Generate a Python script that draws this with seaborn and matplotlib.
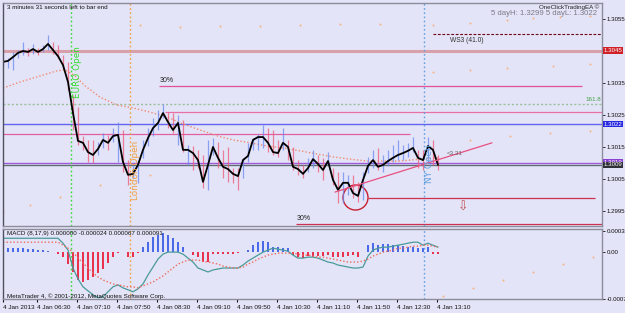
"""
MetaTrader-style EURUSD M5 chart with MACD sub-window, 4 Jan 2013.
"""
import matplotlib
matplotlib.use("Agg")
import matplotlib.pyplot as plt
import matplotlib.transforms as mtransforms
from matplotlib.patches import Ellipse
import seaborn as sns

# ---- data -------------------------------------------------------------------
# bar open times, minutes after 06:00 (5-minute bars)
bar_minutes = list(range(-4, 436, 5))

closes = [
    1.30415, 1.30418, 1.30430, 1.30443, 1.30449, 1.30446, 1.30455, 1.30446, 1.30455, 1.30471,
    1.30452, 1.30433, 1.30405, 1.30352, 1.30255, 1.30168, 1.30162, 1.30133, 1.30124, 1.30143,
    1.30171, 1.30162, 1.30183, 1.30187, 1.30102, 1.30062, 1.30065, 1.30093, 1.30140, 1.30177,
    1.30208, 1.30224, 1.30255, 1.30227, 1.30202, 1.30224, 1.30140, 1.30140, 1.30130, 1.30108,
    1.30040, 1.30093, 1.30149, 1.30115, 1.30087, 1.30080, 1.30065, 1.30058, 1.30108, 1.30121,
    1.30171, 1.30180, 1.30180, 1.30162, 1.30133, 1.30130, 1.30162, 1.30149, 1.30087, 1.30080,
    1.30065, 1.30083, 1.30111, 1.30096, 1.30077, 1.30105, 1.30046, 1.30015, 1.30037, 1.30037,
    1.30005, 1.29996, 1.30046, 1.30090, 1.30108, 1.30087, 1.30093, 1.30105, 1.30115, 1.30124,
    1.30130, 1.30137, 1.30146, 1.30115, 1.30108, 1.30152, 1.30140, 1.30093,
]
highs = [
    1.30427, 1.30427, 1.30446, 1.30452, 1.30477, 1.30458, 1.30471, 1.30458, 1.30468, 1.30499,
    1.30477, 1.30468, 1.30437, 1.30415, 1.30312, 1.30274, 1.30184, 1.30171, 1.30171, 1.30165,
    1.30193, 1.30187, 1.30208, 1.30227, 1.30202, 1.30108, 1.30093, 1.30108, 1.30171, 1.30208,
    1.30240, 1.30265, 1.30283, 1.30258, 1.30255, 1.30249, 1.30233, 1.30155, 1.30152, 1.30140,
    1.30124, 1.30171, 1.30177, 1.30165, 1.30140, 1.30149, 1.30083, 1.30083, 1.30115, 1.30162,
    1.30177, 1.30190, 1.30218, 1.30208, 1.30202, 1.30171, 1.30208, 1.30171, 1.30149, 1.30108,
    1.30093, 1.30115, 1.30140, 1.30124, 1.30115, 1.30133, 1.30083, 1.30071, 1.30071, 1.30062,
    1.30062, 1.30040, 1.30071, 1.30118, 1.30140, 1.30146, 1.30124, 1.30140, 1.30155, 1.30171,
    1.30155, 1.30162, 1.30180, 1.30140, 1.30140, 1.30180, 1.30171, 1.30124,
]
lows = [
    1.30402, 1.30396, 1.30390, 1.30427, 1.30437, 1.30434, 1.30440, 1.30437, 1.30446, 1.30452,
    1.30440, 1.30427, 1.30396, 1.30327, 1.30202, 1.30155, 1.30140, 1.30102, 1.30099, 1.30124,
    1.30146, 1.30140, 1.30165, 1.30102, 1.30071, 1.30030, 1.30052, 1.30037, 1.30115, 1.30152,
    1.30184, 1.30202, 1.30240, 1.30208, 1.30193, 1.30155, 1.30133, 1.30093, 1.30077, 1.30083,
    1.30021, 1.30015, 1.30124, 1.30083, 1.30052, 1.30040, 1.30037, 1.30015, 1.30052, 1.30102,
    1.30140, 1.30140, 1.30146, 1.30133, 1.30124, 1.30118, 1.30140, 1.30108, 1.30077, 1.30062,
    1.30052, 1.30071, 1.30083, 1.30071, 1.30046, 1.30093, 1.30030, 1.29974, 1.29974, 1.29999,
    1.29990, 1.29977, 1.29983, 1.30068, 1.30083, 1.30077, 1.30071, 1.30090, 1.30102, 1.30108,
    1.30108, 1.30118, 1.30133, 1.30083, 1.30077, 1.30099, 1.30093, 1.30077,
]

# slow moving average (dotted salmon)
ma_minutes = [-4, 13, 33, 50, 58, 68, 78, 93, 110, 126, 143, 160, 176, 193,
              210, 226, 243, 260, 276, 293, 310, 326, 343, 360, 376, 393, 413, 433]
ma_values = [1.30333, 1.30352, 1.30371, 1.30387, 1.30390, 1.30371, 1.30340, 1.30305,
             1.30280, 1.30271, 1.30258, 1.30243, 1.30221, 1.30202, 1.30184, 1.30171,
             1.30162, 1.30152, 1.30146, 1.30137, 1.30127, 1.30118, 1.30111, 1.30105,
             1.30105, 1.30105, 1.30111, 1.30115]

# faint envelope dots
env_up_minutes = [133, 173, 213, 253, 293, 333, 373, 426, 463, 500, 526, 553, 583]
env_up_values = [1.30530, 1.30524, 1.30527, 1.30527, 1.30530, 1.30533, 1.30533,
                 1.30530, 1.30537, 1.30546, 1.30552, 1.30555, 1.30558]
env_mid_minutes = [426, 463, 500, 546, 583]
env_mid_values = [1.30383, 1.30390, 1.30396, 1.30402, 1.30408]
env_low_minutes = [-4, 23, 53, 93, 143, 463, 503, 543, 583]
env_low_values = [1.29946, 1.29968, 1.29993, 1.30030, 1.30062, 1.30171, 1.30183, 1.30193, 1.30199]

# MACD (8,17,9)
macd_hist = [
    0.000065, 0.000065, 0.000065, 0.000065, 0.000065, 0.000049, 0.000049, 0.000033, 0.000033, 0.000016,
    0.000005, -0.000033, -0.000082, -0.000196, -0.000327, -0.000457, -0.00049, -0.000457, -0.000408, -0.000343,
    -0.000278, -0.00018, -0.000082, -0.000016, 0.000005, -0.000082, -0.000082, -0.000016, 0.000082, 0.000163,
    0.000245, 0.000278, 0.00031, 0.000278, 0.000229, 0.000163, 0.000082, 0.000008, -0.000049, -0.000082,
    -0.000163, -0.000163, -0.000033, -0.000033, -0.000033, -0.000033, -0.000033, -0.000016, 0.000005, 0.000033,
    0.000114, 0.000163, 0.00018, 0.000163, 0.000082, 0.000082, 0.000065, 0.000065, -0.000049, -0.000082,
    -0.000098, -0.000065, -0.000082, -0.000065, -0.000065, -0.000049, -0.000082, -0.000082, -0.000082, -0.000065,
    -0.000049, -0.000082, 0.000005, 0.000114, 0.000147, 0.000114, 0.000131, 0.000131, 0.000114, 0.000114,
    0.000098, 0.000082, 0.000082, 0.000065, 0.000065, 0.000082, -0.000033, -0.000033,
]
macd_main = [
    0.000228, 0.000228, 0.000228, 0.000228, 0.000228, 0.000228, 0.000228, 0.000228, 0.000228, 0.000228,
    0.000228, 0.000228, 0.000147, 0.000033, -0.000261, -0.00044, -0.00057, -0.000636, -0.0007, -0.00075,
    -0.000733, -0.000652, -0.00057, -0.000538, -0.000587, -0.000619, -0.000652, -0.000603, -0.000522, -0.000375,
    -0.000245, -0.000114, -0.000033, 0.0, 0.0, 0.0, -0.000033, -0.000098, -0.000163, -0.000261,
    -0.000293, -0.000326, -0.000293, -0.000277, -0.000261, -0.000261, -0.000261, -0.000261, -0.000212, -0.000147,
    -0.000098, -0.000049, 0.0, 0.000033, 0.000065, 0.000049, 0.000033, 0.000016, -0.000049, -0.000098,
    -0.000098, -0.000082, -0.000082, -0.000098, -0.00013, -0.000163, -0.000179, -0.000212, -0.000228, -0.000245,
    -0.000261, -0.000261, -0.000245, -0.000065, 0.000033, 0.000065, 0.000082, 0.000082, 0.000098, 0.000114,
    0.00013, 0.000147, 0.000163, 0.000163, 0.000114, 0.000147, 0.000114, 0.000082,
]
macd_signal = [
    0.000163, 0.000163, 0.000163, 0.000163, 0.000163, 0.000163, 0.000163, 0.000163, 0.000163, 0.000163,
    0.000163, 0.000163, 0.000114, 0.000065, 0.0, -0.000098, -0.000179, -0.000261, -0.000343, -0.000408,
    -0.000457, -0.00049, -0.000522, -0.000538, -0.000554, -0.00057, -0.00057, -0.000587, -0.000554, -0.000522,
    -0.00049, -0.00044, -0.000391, -0.000326, -0.000261, -0.000196, -0.000163, -0.00013, -0.00013, -0.00013,
    -0.000147, -0.000163, -0.000179, -0.000196, -0.000228, -0.000245, -0.000261, -0.000261, -0.000245, -0.000196,
    -0.000163, -0.000114, -0.000082, -0.000049, -0.000033, -0.000016, -0.000016, -0.000016, -0.000016, -0.000033,
    -0.000049, -0.000049, -0.000065, -0.000082, -0.000082, -0.000098, -0.000114, -0.00013, -0.000147, -0.000163,
    -0.000163, -0.000163, -0.000147, -0.000114, -0.000065, -0.000033, 0.0, 0.000016, 0.000033, 0.000065,
    0.000065, 0.000082, 0.000098, 0.000098, 0.000114, 0.000114, 0.000098, 0.000082,
]
macd_env_minutes = [436, 466, 496, 526, 556, 586]
macd_env_values = [-0.000723, -0.00059, -0.00046, -0.000329, -0.000197, -0.000082]

# price axis labels and time axis labels
price_ticks = [1.2995, 1.3005, 1.3015, 1.3025, 1.3035, 1.3055]
time_ticks = [-4, 30, 70, 110, 150, 190, 230, 270, 310, 350, 390, 430]
time_labels = ["4 Jan 2013", "4 Jan 06:30", "4 Jan 07:10", "4 Jan 07:50", "4 Jan 08:30",
               "4 Jan 09:10", "4 Jan 09:50", "4 Jan 10:30", "4 Jan 11:10", "4 Jan 11:50",
               "4 Jan 12:30", "4 Jan 13:10"]
macd_ticks = [-0.00077, 0.0, 0.00034]
macd_tick_labels = ["-0.00077", "0.00", "0.00034"]

# session open markers (minute, label, colour, label x, label y)
sessions = [(64, "EURO Open", "#33dd33", 70, 1.30383),
            (123, "London Open", "#f0a040", 128, 1.30077),
            (417, "NY Open", "#60a0e0", 423, 1.30096)]

# ---- plotting ---------------------------------------------------------------
BG = "#e4e4f8"
sns.set_theme(style="white", rc={"axes.facecolor": BG, "figure.facecolor": BG})
plt.rcParams["font.family"] = ["Liberation Sans", "DejaVu Sans"]

fig = plt.figure(figsize=(6.25, 3.13), dpi=100)
ax = fig.add_axes([3 / 625, 87 / 313, 599 / 625, 223 / 313])
axm = fig.add_axes([3 / 625, 14 / 313, 599 / 625, 70 / 313])

XMIN, XMAX = -4, 595
YTOP = 1.30599
ax.set_xlim(XMIN, XMAX)
ax.set_ylim(1.29902, YTOP)
axm.set_xlim(XMIN, XMAX)
axm.set_ylim(-0.00077, 0.00038)

for a in (ax, axm):
    for s in a.spines.values():
        s.set_color("#8c8c9c")
        s.set_linewidth(1.0)
    a.spines["left"].set_color("#505060")

# horizontal levels
ax.axhline(1.3045, color="#d8a0aa", lw=2.2)
ax.hlines(1.30502, 426, XMAX, color="#700010", lw=0.8, linestyles=(0, (2.5, 1.5)))
ax.hlines(1.30340, 152, 575, color="#e2509a", lw=0.9)
ax.axhline(1.30283, color="#9ac09a", lw=1.0, ls=(0, (1.5, 1.5)))
ax.hlines(1.30258, 158, XMAX, color="#e870a4", lw=0.9)
ax.axhline(1.3022, color="#6464f0", lw=1.0)
ax.hlines(1.30190, XMIN, 403, color="#e060a0", lw=0.9)
ax.axhline(1.30100, color="#a05adc", lw=1.0)
ax.axhline(1.30093, color="#607070", lw=1.0)
ax.hlines(1.29990, 361, 588, color="#d03050", lw=0.9)
ax.hlines(1.29908, 289, XMAX, color="#d03050", lw=0.9)

# session open verticals
for m, label, col, tx, ty in sessions:
    for a in (ax, axm):
        a.axvline(m, color=col, lw=1.0, ls=(0, (1.2, 1.8)))
    ax.text(tx, ty, label, rotation=90, color=col, fontsize=6.4,
            ha="center", va="center", family=["DejaVu Sans"])

# envelopes and moving average
dot_col = "#f5b480"
for xs, ys in ((env_up_minutes, env_up_values), (env_mid_minutes, env_mid_values),
               (env_low_minutes, env_low_values)):
    sns.scatterplot(x=xs, y=ys, ax=ax, color=dot_col, s=2, linewidth=0, legend=False)
sns.lineplot(x=ma_minutes, y=ma_values, ax=ax, color="#f08a70", lw=1.0,
             linestyle=(0, (1, 1.5)), legend=False)

# bar ranges
wick_colors = []
for i, c in enumerate(closes):
    prev = closes[i - 1] if i > 0 else c
    wick_colors.append("#6a88f0" if c >= prev else "#ee5a78")
ax.vlines(bar_minutes, lows, highs, colors=wick_colors, lw=0.9, alpha=0.75)

# close line
sns.lineplot(x=bar_minutes, y=closes, ax=ax, color="black", lw=1.3, legend=False)

# trend line and markers
sns.lineplot(x=[328, 485], y=[1.30008, 1.30162], ax=ax, color="#e85080", lw=0.9, legend=False)
ax.add_patch(Ellipse((348.5, 1.29991), width=25, height=25 / 32000, fill=False,
                     ec="#c82030", lw=1.0))
ax.text(456, 1.29962, "\u21e9", color="#c05050", fontsize=9, ha="center", va="center",
        family=["DejaVu Sans"])

# annotations inside main panel
ax.text(153, 1.30358, "30%", fontsize=5, color="#202020", va="center", ha="left")
ax.text(290, 1.29927, "30%", fontsize=5, color="#202020", va="center", ha="left")
ax.text(443, 1.30483, "WS3 (41.0)", fontsize=4.8, color="#303030", va="center", ha="left")
ax.text(594, 1.30296, "161.8", fontsize=4.5, color="#40a040", va="center", ha="right")
ax.text(440, 1.30130, "<3.31", fontsize=4.5, color="#606060", va="center", ha="left")
ax.text(0, YTOP - 5 / 32000, "3 minutes 31 seconds left to bar end", fontsize=4.5,
        color="#101010", va="center", ha="left")
ax.text(592, YTOP - 4 / 32000, "OneClickTradingEA \u00a9", fontsize=4.5,
        color="#202020", va="center", ha="right")
ax.text(590, YTOP - 11 / 32000, "5 dayH: 1.3299 5 dayL: 1.3022", fontsize=5.6,
        color="#7a7a86", va="center", ha="right")

# right price axis
ax.yaxis.tick_right()
ax.set_yticks(price_ticks)
ax.set_yticklabels([f"{p:.4f}" for p in price_ticks])
ax.tick_params(axis="y", length=2, width=0.6, pad=1.2, labelsize=4.4, colors="#101010")
ax.set_xticks([])

trans = mtransforms.blended_transform_factory(ax.transAxes, ax.transData)
for price, label, fc in ((1.3045, "1.3045", "#d02028"), (1.30100, "1.3010", "#8a40d0"),
                         (1.30093, "1.3009", "#303038"), (1.3022, "1.3022", "#2828e0")):
    ax.text(1.002, price, label, transform=trans, fontsize=4.4, color="white",
            va="center", ha="left", bbox=dict(fc=fc, ec="none", pad=0.5))

# MACD panel
hist_colors = ["#b0b0b8" if abs(v) < 0.00001 else ("#4a6ae8" if v > 0 else "#e8324e")
               for v in macd_hist]
axm.bar(bar_minutes, macd_hist, width=2.2, color=hist_colors, linewidth=0)
sns.lineplot(x=bar_minutes, y=macd_main, ax=axm, color="#4a9a9a", lw=0.9, legend=False)
sns.lineplot(x=bar_minutes, y=macd_signal, ax=axm, color="#f06a5a", lw=1.0,
             linestyle=(0, (1, 1.5)), legend=False)
sns.scatterplot(x=macd_env_minutes, y=macd_env_values, ax=axm, color=dot_col, s=2,
                linewidth=0, legend=False)

axm.text(0, 0.00031, "MACD (8,17,9) 0.000000 -0.000024 0.000067 0.000091",
         fontsize=4.5, color="#101010", va="center", ha="left")
axm.text(0, -0.00072, "MetaTrader 4, \u00a9 2001-2012, MetaQuotes Software Corp.",
         fontsize=4.5, color="#101010", va="center", ha="left")

axm.yaxis.tick_right()
axm.set_yticks(macd_ticks)
axm.set_yticklabels(macd_tick_labels)
axm.tick_params(axis="y", length=2, width=0.6, pad=1.2, labelsize=4.4, colors="#101010")
axm.set_xticks(time_ticks)
axm.set_xticklabels(time_labels)
for lbl in axm.get_xticklabels():
    lbl.set_ha("left")
axm.tick_params(axis="x", length=2.5, width=0.8, pad=1.5, labelsize=4.6, colors="#101010",
                bottom=True)

fig.savefig("out.png", dpi=100, facecolor=BG)
